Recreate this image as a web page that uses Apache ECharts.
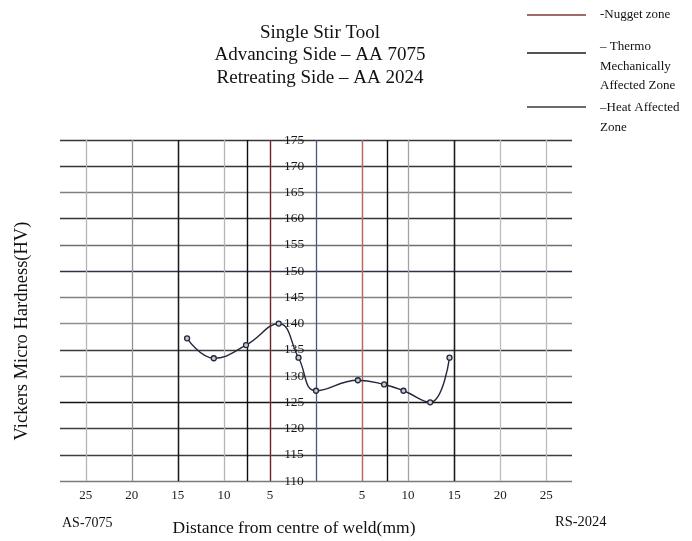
<!DOCTYPE html>
<html>
<head>
<meta charset="utf-8">
<script src="https://cdn.jsdelivr.net/npm/echarts@6/dist/echarts.min.js"></script>
<style>html,body{margin:0;padding:0;background:#fff}#c{width:692px;height:541px}</style>
</head>
<body>
<div id="c"></div>
<script>
// ---- data ----
var distances = [-14.0, -11.1, -7.6, -4.05, -1.9, 0, 4.55, 7.4, 9.5, 12.4, 14.5];
var hardness = [137.2, 133.4, 135.9, 140, 133.5, 127.2, 129.2, 128.4, 127.2, 125, 133.5];
var xTickValues = [-25, -20, -15, -10, -5, 0, 5, 10, 15, 20, 25];
var nuggetLines = [-5, 5];
var tmazLines = [-7.5, 7.7];
var hazLines = [-15, 15];
var titleLines = ['Single Stir Tool', 'Advancing Side \u2013 AA 7075', 'Retreating Side \u2013 AA 2024'];

var FONT = '"Liberation Serif", "Times New Roman", serif';
var chart = echarts.init(document.getElementById('c'), null, {renderer: 'canvas'});

var hColors = ['#7a7a7a', '#3e3e3e', '#3e3e3e', '#141414', '#808080', '#3a3a3a', '#8e8e8e',
               '#808080', '#2e3242', '#6e6e6e', '#363636', '#808080', '#363636', '#363636'];
var vColors = {'-25': '#b5b5b5', '-20': '#929292', '-15': '#2a2a2a', '-10': '#b5b5b5', '-5': '#b5b5b5',
               '0': '#465684', '5': '#b5b5b5', '10': '#a3a3a3', '15': '#1a1a1a', '20': '#bcbcbc', '25': '#bcbcbc'};

var gridMarks = xTickValues.map(function (v) {
  return {xAxis: v, lineStyle: {color: vColors[String(v)], width: 1.3, type: 'solid'}};
});
var zoneMarks = []
  .concat(hazLines.map(function (v) { return {xAxis: v, lineStyle: {color: '#1a1a1a', width: 1.3, type: 'solid'}}; }))
  .concat(tmazLines.map(function (v) { return {xAxis: v, lineStyle: {color: '#0e0e0e', width: 1.4, type: 'solid'}}; }))
  .concat(nuggetLines.map(function (v, i) { return {xAxis: v, lineStyle: {color: i === 0 ? '#6e2222' : '#c06262', width: 1.3, type: 'solid'}}; }));

var legendItems = [
  {y: 15, color: '#7e3a36', lines: ['-Nugget zone'], ty: 15},
  {y: 53, color: '#1a1a1a', lines: ['\u2013 Thermo', 'Mechanically', 'Affected Zone'], ty: 47},
  {y: 107, color: '#3a3a3a', lines: ['\u2013Heat Affected', 'Zone'], ty: 108}
];
var graphics = [];
titleLines.forEach(function (t, i) {
  graphics.push({type: 'text', x: 320, y: 33 + i * 22.5, style: {text: t, fill: '#111', font: '19px ' + FONT, textAlign: 'center', textVerticalAlign: 'middle'}});
});
legendItems.forEach(function (it) {
  graphics.push({type: 'line', shape: {x1: 527, y1: it.y, x2: 586, y2: it.y}, style: {stroke: it.color, lineWidth: 1.3}});
  it.lines.forEach(function (l, j) {
    graphics.push({type: 'text', x: 600, y: it.ty + j * 19.5, style: {text: l, fill: '#111', font: '13px ' + FONT, textAlign: 'left', textVerticalAlign: 'middle'}});
  });
});
graphics.push({type: 'text', x: 22, y: 331, rotation: Math.PI / 2, style: {text: 'Vickers Micro Hardness(HV)', fill: '#111', font: '18.5px ' + FONT, textAlign: 'center', textVerticalAlign: 'middle'}});
graphics.push({type: 'text', x: 62, y: 523, style: {text: 'AS-7075', fill: '#111', font: '14px ' + FONT, textAlign: 'left', textVerticalAlign: 'middle'}});
graphics.push({type: 'text', x: 294, y: 528, style: {text: 'Distance from centre of weld(mm)', fill: '#111', font: '17.5px ' + FONT, textAlign: 'center', textVerticalAlign: 'middle'}});
graphics.push({type: 'text', x: 555, y: 522, style: {text: 'RS-2024', fill: '#111', font: '14.5px ' + FONT, textAlign: 'left', textVerticalAlign: 'middle'}});

chart.setOption({
  animation: false,
  backgroundColor: '#fff',
  graphic: graphics,
  grid: {left: 60, right: 120, top: 140, bottom: 60, containLabel: false},
  xAxis: {
    type: 'value', min: -27.8, max: 27.8,
    axisLine: {show: false}, axisTick: {show: false}, splitLine: {show: false},
    axisLabel: {
      customValues: xTickValues, margin: 8,
      color: '#1a1a1a', fontFamily: FONT, fontSize: 13,
      formatter: function (v) { return v === 0 ? '' : String(Math.abs(v)); }
    }
  },
  yAxis: {
    type: 'value', min: 110, max: 175, interval: 5, offset: -234,
    axisLine: {show: false}, axisTick: {show: false},
    axisLabel: {margin: 0, align: 'center', color: '#1a1a1a', fontFamily: FONT, fontSize: 13.5, showMinLabel: true, showMaxLabel: true},
    splitLine: {show: true, lineStyle: {color: hColors, width: 1.3}}
  },
  series: [
    {
      type: 'line', data: [], silent: true,
      markLine: {symbol: 'none', silent: true, label: {show: false}, data: gridMarks.concat(zoneMarks), animation: false}
    },
    {
      type: 'line', smooth: 0.45,
      data: distances.map(function (d, i) { return [d, hardness[i]]; }),
      symbol: 'circle', symbolSize: 5,
      lineStyle: {color: '#22273a', width: 1.4},
      itemStyle: {color: '#c8cbd4', borderColor: '#22273a', borderWidth: 1.3},
      z: 5
    }
  ]
});
</script>
</body>
</html>
